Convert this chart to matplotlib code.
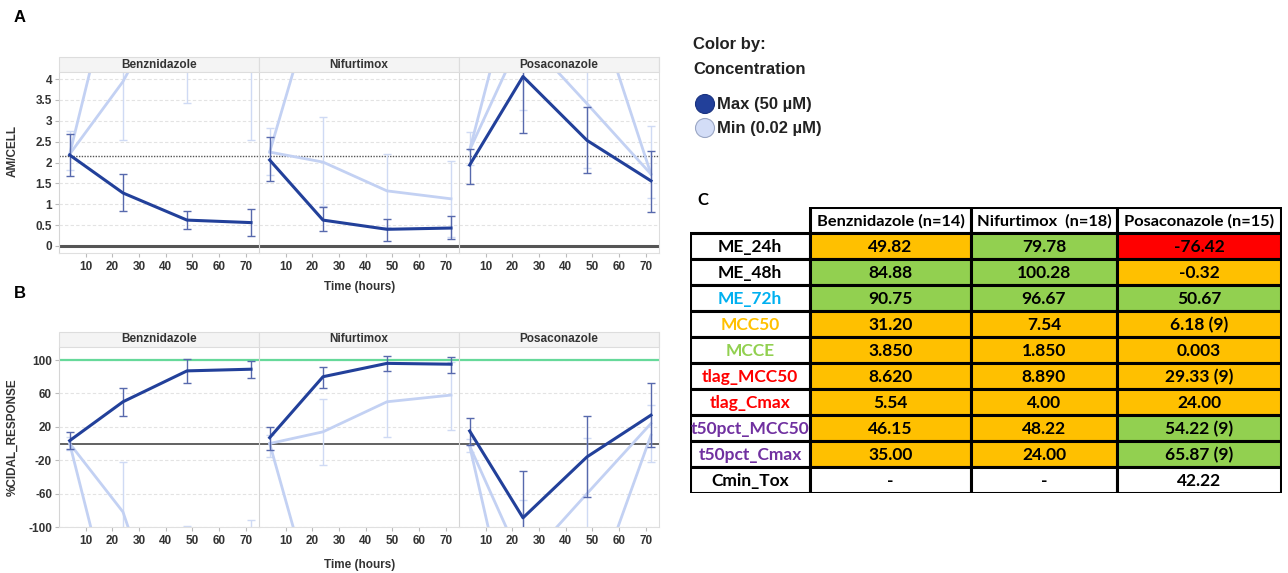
import matplotlib.pyplot as plt
from matplotlib.patches import Rectangle, Circle
import numpy as np

W, H = 1288, 573
plt.rcParams['font.family'] = ['Liberation Sans', 'DejaVu Sans']

hours = [4, 24, 48, 72]
drugs = ["Benznidazole", "Nifurtimox", "Posaconazole"]

# panel A : AM/CELL, one row per drug
am_max = [[2.18, 1.27, 0.62, 0.56], [2.06, 0.62, 0.40, 0.43], [1.94, 4.06, 2.53, 1.56]]
am_max_lo = [[1.67, 0.84, 0.41, 0.25], [1.56, 0.36, 0.13, 0.17], [1.49, 2.71, 1.75, 0.82]]
am_max_hi = [[2.68, 1.72, 0.85, 0.88], [2.61, 0.93, 0.65, 0.73], [2.33, 4.30, 3.33, 2.28]]
am_min1 = [[2.20, 7.4, 9.0, 9.0], [2.25, 6.6, 8.0, 8.0], [2.30, 5.07, 3.41, 1.72]]
am_min2 = [[2.20, 3.94, 6.8, 6.5], [2.25, 2.01, 1.32, 1.13], [2.30, 7.2, 6.4, 1.72]]
am_min_lo = [[1.83, 2.54, 3.43, 2.54], [1.70, 0.95, 0.45, 0.22], [1.95, 3.26, 1.87, 1.15]]
am_min_hi = [[2.76, 6.0, 8.0, 8.0], [2.83, 3.09, 2.20, 2.03], [2.74, 6.0, 6.0, 2.88]]

# panel B : %CIDAL_RESPONSE
cr_max = [[3.4, 50, 87, 89], [7, 80, 96, 95], [15, -89, -16, 34]]
cr_max_lo = [[-6.6, 33, 73, 78], [-8, 66, 87, 85], [-2, -130, -64, -4]]
cr_max_hi = [[14, 67, 101, 99], [20, 92, 105, 104], [31, -33, 33, 72]]
cr_min1 = [[0, -253, -300, -300], [0, -227, -300, -300], [-3, -145, -60, 24]]
cr_min2 = [[0, -82, -310, -300], [0, 14, 50, 58], [-3, -283, -203, 10]]
cr_min_lo = [[-8, -300, -300, -300], [-16, -26, 8, 16], [-10, -200, -200, -22]]
cr_min_hi = [[8, -22, -99, -92], [10, 53, 96, 98], [5, -68, 7, 46]]

am_ticks = [0, 0.5, 1, 1.5, 2, 2.5, 3, 3.5, 4]
am_tick_labels = ["0", "0.5", "1", "1.5", "2", "2.5", "3", "3.5", "4"]
cr_ticks = [-100, -60, -20, 20, 60, 100]
x_ticks = [10, 20, 30, 40, 50, 60, 70]

# panel C table
col_heads = ["Benznidazole (n=14)", "Nifurtimox  (n=18)", "Posaconazole (n=15)"]
row_names = ["ME_24h", "ME_48h", "ME_72h", "MCC50", "MCCE", "tlag_MCC50",
             "tlag_Cmax", "t50pct_MCC50", "t50pct_Cmax", "Cmin_Tox"]
row_colors = ["black", "black", "#00B0F0", "#FFC000", "#92D050", "#FF0000",
              "#FF0000", "#7030A0", "#7030A0", "black"]
cells = [["49.82", "79.78", "-76.42"],
         ["84.88", "100.28", "-0.32"],
         ["90.75", "96.67", "50.67"],
         ["31.20", "7.54", "6.18 (9)"],
         ["3.850", "1.850", "0.003"],
         ["8.620", "8.890", "29.33 (9)"],
         ["5.54", "4.00", "24.00"],
         ["46.15", "48.22", "54.22 (9)"],
         ["35.00", "24.00", "65.87 (9)"],
         ["-", "-", "42.22"]]
cell_fill = [["o", "g", "r"], ["g", "g", "o"], ["g", "g", "g"], ["o", "o", "o"],
             ["o", "o", "o"], ["o", "o", "o"], ["o", "o", "o"], ["o", "o", "g"],
             ["o", "o", "g"], ["w", "w", "w"]]
fill_map = {"o": "#FFC000", "g": "#92D050", "r": "#FF0000", "w": "white"}

DARK = "#22409a"
DARK_ERR = "#5769ad"
LIGHT = "#c3d1f3"
LIGHT_ERR = "#cfdaf4"
TXT = "#333333"

fig = plt.figure(figsize=(W / 100, H / 100), dpi=100)


def px_axes(x0, y0, x1, y1):
    return fig.add_axes([x0 / W, 1 - y1 / H, (x1 - x0) / W, (y1 - y0) / H])


def strip(x0, y0, x1, y1, name):
    fig.patches.append(Rectangle((x0 / W, 1 - y1 / H), (x1 - x0) / W, (y1 - y0) / H,
                                 transform=fig.transFigure, facecolor="#f4f4f4",
                                 edgecolor="#dddddd", lw=0.8))
    fig.text((x0 + x1) / 2 / W, 1 - (y0 + y1) / 2 / H, name, ha="center", va="center",
             fontsize=8.5, fontweight="bold", color=TXT)


def draw_row(top, bottom, mx, lo, hi, mn1, mn2, mlo, mhi, ylim, yticks, ylabels, kind):
    for i, d in enumerate(drugs):
        x0 = 59 + 200 * i
        strip(x0, top - 15, x0 + 200, top, d)
        ax = px_axes(x0, top, x0 + 200, bottom)
        ax.set_xlim(0, 75)
        ax.set_ylim(*ylim)
        for v in yticks:
            ax.axhline(v, color="#e3e3e3", lw=0.8, ls=(0, (3, 2)), zorder=0)
        if kind == "A":
            ax.axhline(2.16, color="#555555", lw=1.0, ls=(0, (1, 1)), zorder=1)
            ax.axhline(0, color="#555555", lw=2.2, zorder=1)
        else:
            ax.axhline(100, color="#66d99a", lw=1.6, zorder=1)
            ax.axhline(0, color="#555555", lw=1.3, zorder=1)

        l, h = np.array(mlo[i]), np.array(mhi[i])
        ax.errorbar(hours, (l + h) / 2, yerr=(h - l) / 2, fmt="none", ecolor=LIGHT_ERR,
                    elinewidth=1.0, capsize=3, capthick=1.0, zorder=2)
        ax.plot(hours, mn1[i], color=LIGHT, lw=2, zorder=3)
        ax.plot(hours, mn2[i], color=LIGHT, lw=2, zorder=3)
        l, h = np.array(lo[i]), np.array(hi[i])
        ax.errorbar(hours, (l + h) / 2, yerr=(h - l) / 2, fmt="none", ecolor=DARK_ERR,
                    elinewidth=1.0, capsize=3, capthick=1.0, zorder=4)
        ax.plot(hours, mx[i], color=DARK, lw=2.2, zorder=5)

        ax.set_xticks(x_ticks)
        ax.set_xticklabels([str(t) for t in x_ticks], fontsize=8.5, fontweight="bold", color=TXT)
        ax.tick_params(axis="x", length=3, color="#bbbbbb", pad=3)
        for s in ["top", "right"]:
            ax.spines[s].set_visible(False)
        ax.spines["bottom"].set_color("#e0e0e0")
        ax.spines["left"].set_color("#d5d5d5")
        if i == 0:
            ax.set_yticks(yticks)
            ax.set_yticklabels(ylabels, fontsize=8.5, fontweight="bold", color=TXT)
            ax.tick_params(axis="y", length=3, color="#bbbbbb", pad=2)
        else:
            ax.set_yticks([])
    fig.add_artist(plt.Line2D([659 / W, 659 / W], [1 - bottom / H, 1 - (top - 15) / H],
                              transform=fig.transFigure, color="#dddddd", lw=0.8))


draw_row(72, 253, am_max, am_max_lo, am_max_hi, am_min1, am_min2, am_min_lo, am_min_hi,
         (-0.168, 4.168), am_ticks, am_tick_labels, "A")
draw_row(347, 527, cr_max, cr_max_lo, cr_max_hi, cr_min1, cr_min2, cr_min_lo, cr_min_hi,
         (-100, 115.6), cr_ticks, [str(t) for t in cr_ticks], "B")

# axis titles and panel letters
fig.text(360 / W, 1 - 287 / H, "Time (hours)", ha="center", va="center", fontsize=8.5,
         fontweight="bold", color=TXT)
fig.text(360 / W, 1 - 565 / H, "Time (hours)", ha="center", va="center", fontsize=8.5,
         fontweight="bold", color=TXT)
fig.text(13 / W, 1 - 151 / H, "AM/CELL", rotation=90, ha="center", va="center",
         fontsize=8.5, fontweight="bold", color=TXT)
fig.text(13 / W, 1 - 437 / H, "%CIDAL_RESPONSE", rotation=90, ha="center", va="center",
         fontsize=8.5, fontweight="bold", color=TXT)
fig.text(14 / W, 1 - 17 / H, "A", ha="left", va="center", fontsize=12, fontweight="bold")
fig.text(14 / W, 1 - 294 / H, "B", ha="left", va="center", fontsize=12, fontweight="bold")
fig.text(697 / W, 1 - 200 / H, "C", ha="left", va="center", fontsize=12, fontweight="bold",
         family=["Lato", "DejaVu Sans"])

# legend
fig.text(693 / W, 1 - 45 / H, "Color by:", ha="left", va="center", fontsize=12,
         fontweight="bold", color="#222222")
fig.text(693 / W, 1 - 69 / H, "Concentration", ha="left", va="center", fontsize=12,
         fontweight="bold", color="#222222")
lg = px_axes(690, 90, 900, 140)
lg.set_xlim(690, 900)
lg.set_ylim(140, 90)
lg.axis("off")
lg.add_patch(Circle((705, 104), 9.5, facecolor=DARK, edgecolor="#1a3380", lw=0.8))
lg.add_patch(Circle((705, 128), 9.5, facecolor="#d3ddf7", edgecolor="#9aa6c4", lw=0.8))
lg.text(717, 104, "Max (50 µM)", ha="left", va="center", fontsize=12, fontweight="bold",
        color="#222222")
lg.text(717, 128, "Min (0.02 µM)", ha="left", va="center", fontsize=12, fontweight="bold",
        color="#222222")
lg.set_aspect("equal")

# table
col_edges = [0, 120, 281, 427, 591]
row_h = 26
tb = px_axes(690, 207, 1282, 207 + row_h * 11)
tb.set_xlim(0, 592)
tb.set_ylim(row_h * 11, 0)
tb.axis("off")
tfont = dict(family=["Lato", "DejaVu Sans"], fontweight="bold", fontsize=12.5,
             ha="center", va="center")
hfont = dict(tfont, fontsize=11.8)
for j, head in enumerate(col_heads):
    x0, x1 = col_edges[j + 1], col_edges[j + 2]
    tb.add_patch(Rectangle((x0, 0), x1 - x0, row_h, facecolor="white", edgecolor="black", lw=2.2))
    tb.text((x0 + x1) / 2, row_h / 2 + 1, head, color="black", **hfont)
for r, name in enumerate(row_names):
    y0 = row_h * (r + 1)
    tb.add_patch(Rectangle((col_edges[0], y0), col_edges[1] - col_edges[0], row_h,
                           facecolor="white", edgecolor="black", lw=2.2))
    tb.text((col_edges[0] + col_edges[1]) / 2, y0 + row_h / 2 + 1, name, color=row_colors[r], **tfont)
    for j in range(3):
        x0, x1 = col_edges[j + 1], col_edges[j + 2]
        tb.add_patch(Rectangle((x0, y0), x1 - x0, row_h, facecolor=fill_map[cell_fill[r][j]],
                               edgecolor="black", lw=2.2))
        tb.text((x0 + x1) / 2, y0 + row_h / 2 + 1, cells[r][j], color="black", **tfont)

fig.savefig("out.png", dpi=100)
